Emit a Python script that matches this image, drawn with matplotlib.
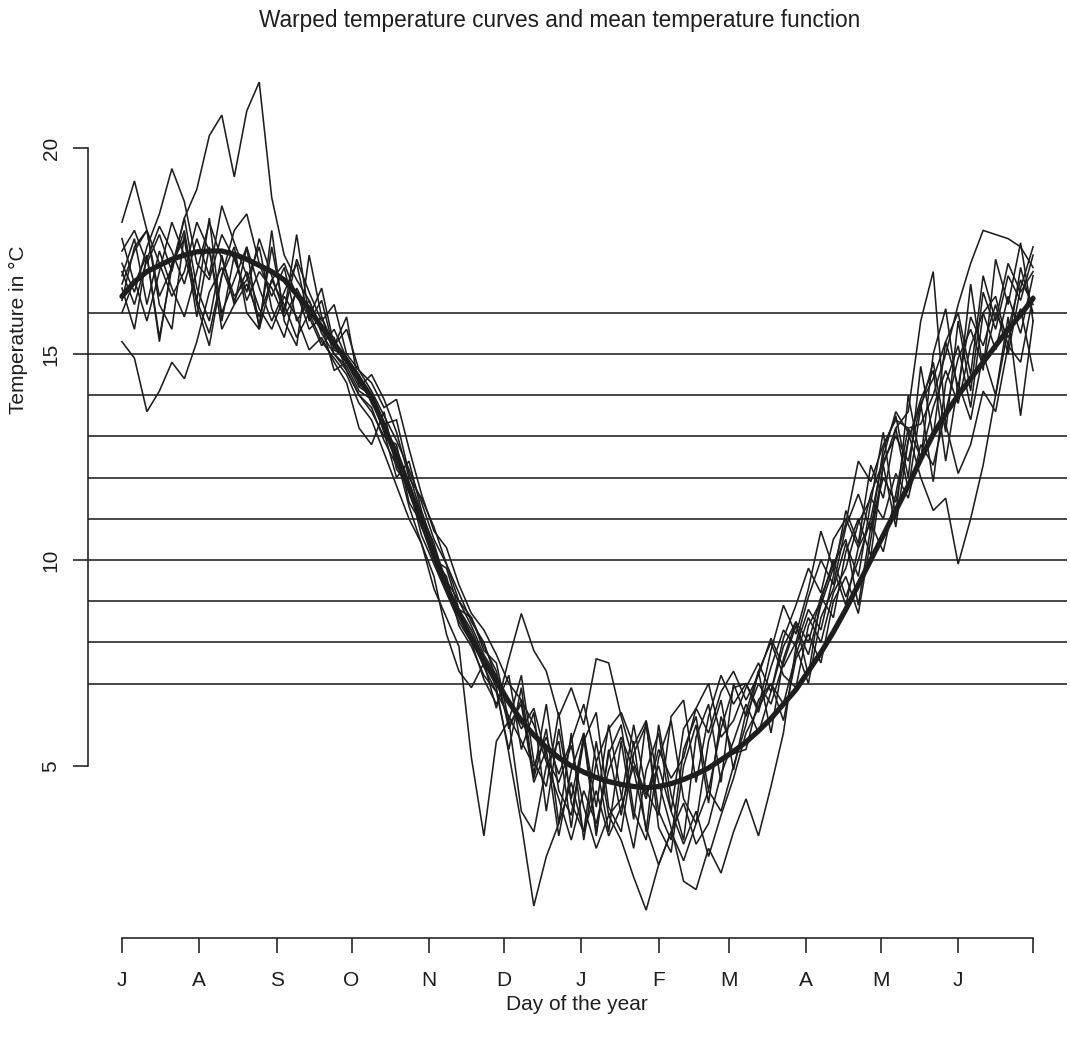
import numpy as np
import matplotlib
matplotlib.use("Agg")
import matplotlib.pyplot as plt

plt.rcParams['font.family'] = ['Liberation Sans', 'DejaVu Sans']

# ---- data ----
days = list(range(0, 366, 5))  # sampling grid of the curves (day of the year from 1 July)

mean_curve = [16.4, 16.75, 17.0, 17.15, 17.3, 17.4, 17.48, 17.5, 17.5, 17.42,
              17.3, 17.15, 17.0, 16.8, 16.45, 16.1, 15.65, 15.25, 14.85, 14.4,
              13.95, 13.25, 12.5, 11.75, 10.95, 10.1, 9.35, 8.7, 8.1, 7.55,
              7.05, 6.55, 6.1, 5.75, 5.45, 5.2, 5.0, 4.85, 4.72, 4.62,
              4.55, 4.5, 4.47, 4.5, 4.57, 4.67, 4.8, 4.95, 5.15, 5.35,
              5.58, 5.85, 6.15, 6.5, 6.85, 7.3, 7.75, 8.25, 8.8, 9.4,
              10.0, 10.6, 11.2, 11.8, 12.45, 13.05, 13.55, 14.0, 14.4, 14.8,
              15.2, 15.6, 15.95, 16.35]

curve_a = [17.5, 18.0, 17.2, 17.9, 17.0, 18.3, 19.0, 20.3, 20.8, 19.3,
           20.9, 21.6, 18.8, 17.4, 16.8, 16.3, 15.6, 15.4, 14.6, 14.0,
           13.6, 13.0, 12.8, 11.4, 10.9, 10.0, 9.6, 8.4, 7.9, 7.2,
           6.8, 5.4, 6.9, 4.7, 5.9, 3.6, 5.8, 3.2, 5.1, 3.4,
           5.6, 3.7, 6.1, 3.5, 2.9, 5.0, 6.0, 4.1, 6.2, 5.3,
           5.4, 6.6, 7.0, 6.1, 7.6, 8.2, 7.5, 9.0, 9.6, 8.7,
           10.5, 12.3, 10.8, 12.9, 13.8, 11.9, 14.3, 15.2, 13.7, 16.0,
           16.4, 15.2, 17.1, 16.0]
curve_b = [15.3, 14.9, 13.6, 14.1, 14.8, 14.4, 15.3, 16.5, 17.1, 16.3,
           17.0, 16.1, 15.6, 16.4, 15.9, 15.1, 15.4, 14.8, 14.3, 13.2,
           12.8, 13.6, 12.2, 11.8, 10.6, 9.9, 9.2, 8.5, 8.0, 7.1,
           6.5, 7.2, 5.4, 6.3, 3.9, 5.9, 4.2, 5.7, 3.3, 5.4,
           3.8, 5.6, 3.4, 6.0, 4.3, 3.2, 5.7, 6.5, 4.6, 7.0,
           6.2, 7.0, 6.5, 7.5, 8.4, 7.7, 8.9, 9.8, 8.9, 10.3,
           10.9, 10.2, 11.6, 13.2, 12.5, 13.7, 14.6, 13.8, 15.2, 16.0,
           15.1, 16.4, 15.5, 16.9]
curve_c = [18.2, 19.2, 18.0, 16.4, 17.1, 18.3, 16.6, 15.8, 17.4, 16.2,
           17.6, 15.6, 18.0, 15.8, 15.2, 17.4, 15.9, 15.2, 15.9, 14.2,
           14.0, 13.1, 12.0, 12.4, 11.2, 10.3, 9.5, 9.0, 8.6, 7.9,
           7.3, 5.9, 6.6, 4.8, 6.5, 4.4, 3.8, 5.6, 6.3, 4.0,
           3.4, 5.3, 6.0, 3.9, 3.2, 5.4, 6.2, 4.4, 5.9, 6.9,
           7.0, 6.3, 7.4, 8.3, 7.9, 7.0, 8.6, 9.3, 10.4, 9.6,
           11.4, 13.1, 11.0, 14.0, 12.4, 15.0, 16.1, 14.0, 16.7, 14.6,
           17.3, 16.2, 17.7, 15.8]
curve_d = [17.2, 16.5, 17.6, 18.4, 19.5, 18.7, 17.2, 16.8, 17.9, 17.3,
           16.5, 17.8, 16.9, 16.0, 17.3, 16.5, 15.8, 16.2, 15.0, 14.6,
           14.3, 13.7, 13.9, 12.7, 11.6, 10.7, 10.3, 9.4, 8.7, 8.3,
           7.7, 7.0, 6.6, 6.0, 5.1, 4.2, 3.2, 4.4, 3.6, 4.9,
           5.7, 4.9, 3.5, 2.6, 3.4, 4.1, 3.1, 3.6, 4.8, 5.6,
           6.5, 5.8, 6.8, 7.9, 8.5, 8.0, 9.1, 8.6, 10.2, 11.0,
           10.1, 12.3, 13.2, 11.7, 13.7, 14.8, 13.1, 15.8, 14.1, 16.5,
           15.6, 16.9, 16.3, 17.4]
curve_e = [16.9, 17.8, 16.2, 17.5, 16.6, 15.9, 17.0, 18.2, 17.3, 16.4,
           16.8, 17.6, 16.1, 15.4, 16.6, 16.0, 15.3, 14.9, 14.5, 13.8,
           13.4, 12.6, 11.8, 11.0, 10.4, 9.3, 8.6, 7.9, 5.2, 3.3,
           5.6, 6.1, 3.9, 3.4, 5.0, 5.6, 3.5, 5.8, 4.0, 6.0,
           4.3, 3.0, 4.9, 5.8, 3.9, 5.9, 6.4, 7.0, 5.7, 6.1,
           6.9, 7.5, 6.8, 8.1, 8.9, 9.8, 9.2, 10.5, 11.0, 10.3,
           11.6, 12.4, 13.0, 12.4, 13.8, 14.4, 15.3, 14.2, 15.9, 15.2,
           16.2, 15.0, 16.6, 17.6]
curve_f = [16.3, 17.6, 18.0, 16.2, 15.6, 17.9, 16.3, 18.3, 15.8, 17.4,
           16.3, 17.0, 16.6, 15.9, 16.5, 15.6, 15.9, 15.0, 14.7, 14.1,
           13.9, 13.2, 12.7, 11.9, 11.0, 10.0, 9.8, 8.8, 8.3, 7.6,
           6.9, 5.3, 3.6, 1.6, 2.8, 3.6, 4.6, 3.4, 4.4, 3.3,
           4.0, 5.0, 4.2, 5.4, 4.7, 5.2, 6.4, 5.8, 6.8, 7.3,
           6.6, 7.2, 8.1, 7.4, 8.0, 9.1, 10.0, 9.4, 10.8, 11.6,
           10.7, 12.7, 13.5, 12.0, 14.7, 13.0, 15.3, 16.0, 14.5, 16.9,
           15.8, 17.2, 16.5, 17.0]
curve_g = [16.6, 15.6, 17.4, 15.3, 17.2, 17.8, 15.9, 17.6, 15.6, 16.2,
           16.7, 15.9, 16.8, 17.2, 16.4, 15.9, 15.2, 15.6, 14.9, 14.3,
           13.9, 13.3, 12.5, 11.3, 10.4, 9.6, 8.2, 7.3, 6.9, 7.5,
           6.4, 7.6, 8.7, 7.8, 7.3, 6.2, 6.9, 6.0, 7.6, 7.5,
           6.2, 5.1, 4.3, 5.0, 3.9, 3.1, 3.9, 2.8, 3.8, 4.7,
           5.8, 6.4, 7.0, 6.5, 7.7, 8.6, 8.0, 9.2, 9.8, 10.9,
           11.5, 11.0, 12.1, 11.5, 12.8, 12.3, 13.6, 14.9, 15.6, 14.7,
           16.0, 15.4, 16.1, 14.6]
curve_h = [17.0, 16.2, 17.3, 18.1, 17.5, 16.7, 17.8, 16.9, 18.6, 17.7,
           16.9, 15.7, 17.6, 16.0, 17.9, 15.9, 16.6, 15.2, 15.6, 14.6,
           14.1, 13.5, 12.9, 12.2, 11.4, 10.5, 9.9, 9.0, 8.4, 7.7,
           7.2, 6.6, 5.9, 6.4, 5.2, 4.6, 5.5, 4.0, 3.0, 3.8,
           3.2, 2.3, 1.5, 2.6, 3.4, 2.7, 3.6, 4.4, 3.9, 5.0,
           6.0, 7.3, 5.8, 7.6, 8.5, 7.2, 9.1, 9.9, 10.5, 8.9,
           10.8, 12.0, 11.4, 12.9, 13.9, 14.6, 12.4, 14.3, 13.4, 15.0,
           14.0, 15.9, 13.5, 15.8]
curve_i = [16.0, 16.8, 15.8, 17.0, 18.2, 17.4, 16.3, 15.5, 16.9, 18.0,
           18.4, 17.2, 16.4, 17.1, 15.8, 16.3, 15.5, 15.0, 14.6, 14.0,
           13.7, 12.9, 12.3, 11.7, 10.8, 10.2, 9.3, 8.7, 8.1, 7.4,
           6.8, 6.2, 5.6, 5.0, 5.7, 4.8, 5.6, 6.5, 5.1, 5.9,
           6.3, 5.5, 6.1, 4.6, 3.5, 2.2, 2.0, 3.0, 2.4, 3.4,
           4.2, 3.3, 4.5, 5.8, 7.9, 8.8, 8.3, 9.6, 11.2, 10.4,
           12.3, 11.5, 13.2, 13.6, 15.8, 17.0, 13.3, 12.1, 12.8, 14.1,
           13.6, 15.2, 14.8, 16.4]
curve_j = [17.8, 16.7, 17.4, 15.4, 17.1, 18.0, 16.2, 15.2, 16.9, 17.6,
           16.0, 15.6, 16.8, 16.2, 15.4, 16.0, 15.7, 14.6, 14.8, 14.2,
           14.5, 13.9, 13.1, 12.0, 11.5, 10.8, 9.9, 9.2, 8.5, 8.0,
           7.1, 6.0, 6.5, 4.6, 5.4, 3.3, 4.9, 5.8, 3.4, 5.3,
           6.0, 3.9, 3.2, 5.2, 6.1, 4.2, 3.6, 5.6, 6.6, 4.9,
           6.3, 7.3, 8.0, 7.2, 6.9, 8.4, 9.0, 10.0, 9.1, 10.0,
           11.0, 12.5, 13.6, 13.1, 12.0, 11.2, 11.5, 9.9, 11.0, 12.3,
           14.0, 15.6, 16.8, 16.2]
curve_k = [16.7, 17.5, 18.0, 17.2, 16.4, 17.0, 18.2, 17.5, 16.0, 16.8,
           17.6, 16.6, 15.8, 16.5, 17.2, 15.8, 16.3, 15.1, 14.9, 14.5,
           13.8, 13.3, 13.4, 12.1, 11.1, 10.4, 9.4, 8.8, 8.6, 7.8,
           7.5, 6.1, 7.2, 5.1, 4.5, 6.3, 4.1, 3.4, 5.6, 3.8,
           4.2, 6.0, 4.4, 3.8, 6.2, 6.6, 4.6, 6.2, 7.2, 6.5,
           7.0, 6.4, 7.8, 8.9, 8.2, 9.3, 10.7, 9.8, 10.9, 12.4,
           11.9, 12.8, 13.4, 13.2, 13.3, 14.0, 15.0, 16.2, 17.2, 18.0,
           17.9, 17.8, 17.6, 17.1]

curves = [curve_a, curve_b, curve_c, curve_d, curve_e, curve_f,
          curve_g, curve_h, curve_i, curve_j, curve_k]

hline_levels = [7, 8, 9, 10, 11, 12, 13, 14, 15, 16]

month_ticks = [0, 31, 62, 92, 123, 153, 184, 215, 243, 274, 304, 335, 365]
month_labels = ['J', 'A', 'S', 'O', 'N', 'D', 'J', 'F', 'M', 'A', 'M', 'J', '']
y_ticks = [5, 10, 15, 20]

title = "Warped temperature curves and mean temperature function"
xlabel = "Day of the year"
ylabel = "Temperature in \u00b0C"

# ---- figure ----
W, H = 1070, 1043
fig = plt.figure(figsize=(W / 100, H / 100), dpi=100)
ax = fig.add_axes([88 / W, 1 - 937.7 / H, (1067 - 88) / W, (937.7 - 43.8) / H])
ink = '#1e1e1e'

for c in curves:
    ax.plot(days, c, color=ink, lw=1.15, solid_joinstyle='miter')
ax.plot(days, mean_curve, color=ink, lw=3.8, solid_capstyle='round')
for h in hline_levels:
    ax.axhline(h, color=ink, lw=1.15)

ax.set_xlim(-13.6, 378.6)
ax.set_ylim(0.83, 22.53)

for s in ['top', 'right']:
    ax.spines[s].set_visible(False)
ax.spines['left'].set_bounds(5, 20)
ax.spines['bottom'].set_bounds(0, 365)
for s in ['left', 'bottom']:
    ax.spines[s].set_color(ink)
    ax.spines[s].set_linewidth(1.15)

ax.set_xticks(month_ticks)
ax.set_xticklabels(month_labels)
ax.set_yticks(y_ticks)
ax.set_yticklabels([str(v) for v in y_ticks], rotation=90, va='center')
ax.tick_params(axis='both', direction='out', length=10.8, width=1.15,
               color=ink, labelsize=15, labelcolor=ink)
ax.tick_params(axis='x', pad=13)
ax.tick_params(axis='y', pad=9)

fig.text(560 / W, 1 - 20 / H, title, ha='center', va='center', fontsize=16.3, color=ink)
fig.text(577 / W, 1 - 1005 / H, xlabel, ha='center', va='center', fontsize=15, color=ink)
fig.text(18 / W, 1 - 330 / H, ylabel, ha='center', va='center', rotation=90,
         fontsize=15, color=ink)

fig.savefig('out.png', dpi=100)
